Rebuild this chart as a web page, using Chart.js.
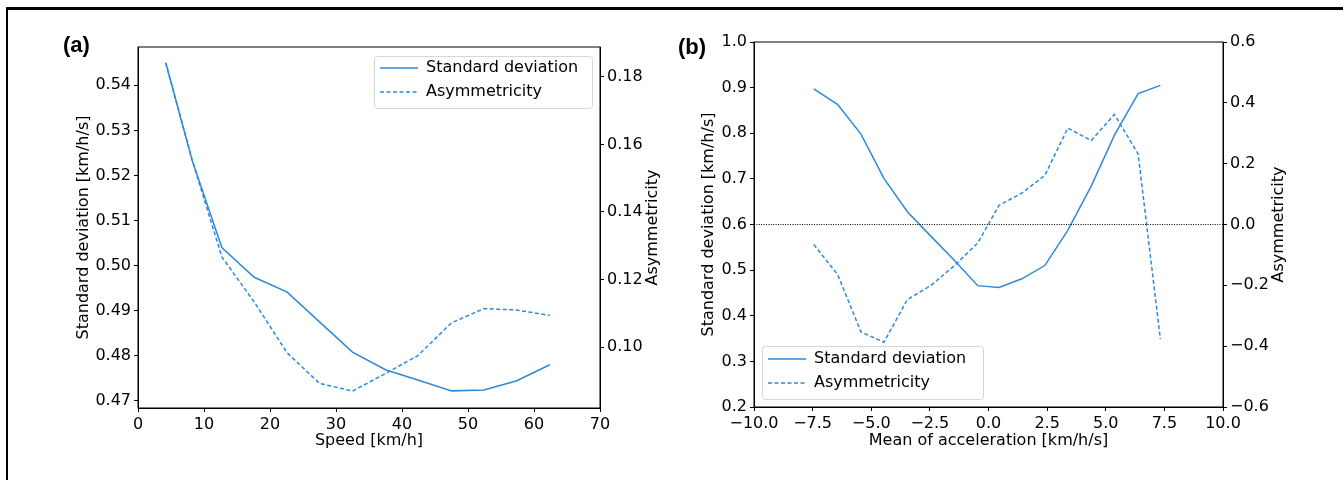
<!DOCTYPE html>
<html>
<head>
<meta charset="utf-8">
<script src="https://cdn.jsdelivr.net/npm/chart.js@4.4.1/dist/chart.umd.min.js"></script>
<style>
  body { margin: 0; width: 1343px; height: 480px; background: #fff; position: relative; overflow: hidden; }
  .frame { position: absolute; left: 6px; top: 7px; width: 1400px; height: 500px; border-left: 2.5px solid #000; border-top: 3px solid #000; }
  canvas { position: absolute; top: 0; }
  #chart-a { left: 0; }
  #chart-b { left: 671px; }
  .tag { position: absolute; font: bold 22px "Liberation Sans", Arial, sans-serif; color: #000; line-height: 22px; }
</style>
</head>
<body>
<div class="frame"></div>
<canvas id="chart-a" width="671" height="480"></canvas>
<canvas id="chart-b" width="672" height="480"></canvas>
<div class="tag" style="left:63px;top:34px">(a)</div>
<div class="tag" style="left:678px;top:36px">(b)</div>
<script>
// (a) speed bins
const SPEED = [4.2, 8.2, 12.7, 17.6, 22.6, 27.5, 32.5, 37.5, 42.4, 47.5, 52.4, 57.3, 62.4];
const SPEED_STD = [0.545, 0.5234, 0.504, 0.4974, 0.4941, 0.4875, 0.4808, 0.4769, 0.4746, 0.4722, 0.4724, 0.4744, 0.478];
const SPEED_ASYM = [0.1841, 0.1554, 0.1267, 0.1134, 0.0983, 0.0893, 0.087, 0.0922, 0.0975, 0.1072, 0.1114, 0.111, 0.1094];
const SPEED_TICKS = [0, 10, 20, 30, 40, 50, 60, 70];
const SPEED_STD_TICKS = [0.47, 0.48, 0.49, 0.5, 0.51, 0.52, 0.53, 0.54];
const SPEED_ASYM_TICKS = [0.1, 0.12, 0.14, 0.16, 0.18];

// (b) acceleration bins
const ACC = [-7.45, -6.43, -5.44, -4.46, -3.46, -2.45, -1.45, -0.46, 0.45, 1.42, 2.4, 3.38, 4.38, 5.37, 6.38, 7.33];
const ACC_STD = [0.897, 0.863, 0.798, 0.701, 0.628, 0.574, 0.521, 0.466, 0.462, 0.481, 0.51, 0.587, 0.684, 0.796, 0.887, 0.905];
const ACC_ASYM = [-0.066, -0.165, -0.353, -0.387, -0.247, -0.2, -0.135, -0.061, 0.063, 0.103, 0.161, 0.317, 0.276, 0.362, 0.232, -0.377];
const ACC_TICKS = [-10, -7.5, -5, -2.5, 0, 2.5, 5, 7.5, 10];
const ACC_STD_TICKS = [0.2, 0.3, 0.4, 0.5, 0.6, 0.7, 0.8, 0.9, 1.0];
const ACC_ASYM_TICKS = [-0.6, -0.4, -0.2, 0, 0.2, 0.4, 0.6];

const LINE_COLOR = "#2e8ad8";
const DASH = [4, 2.5];
const FONT = { family: "DejaVu Sans", size: 16 };

function minus(s) {
  return s.replace("-", "\u2212");
}

function fixed(n) {
  return (v) => (Math.abs(v) < 1e-9 ? (0).toFixed(n) : minus(v.toFixed(n)));
}

function series(label, xs, ys, axisId, dash) {
  return {
    label: label,
    data: xs.map((x, i) => ({ x: x, y: ys[i] })),
    yAxisID: axisId,
    borderColor: LINE_COLOR,
    backgroundColor: LINE_COLOR,
    borderWidth: 1.5,
    borderDash: dash,
    pointRadius: 0,
    tension: 0,
  };
}

function axis(position, min, max, ticks, fmt, title, size) {
  return {
    type: "linear",
    position: position,
    min: min,
    max: max,
    afterBuildTicks: (scale) => {
      scale.ticks = ticks.map((v) => ({ value: v }));
    },
    afterFit: (scale) => {
      if (position === "bottom") scale.height = size;
      else scale.width = size;
    },
    ticks: { font: FONT, color: "#000", padding: 3, autoSkip: false, maxRotation: 0, callback: fmt },
    grid: { drawOnChartArea: false, tickLength: 4, color: "#000", tickColor: "#000" },
    border: { color: "#000", width: 1 },
    // right-hand titles are drawn by the frame plugin so they read bottom-to-top
    title: { display: position !== "right", text: title, font: FONT, color: "#000", padding: { top: 4, bottom: 2 } },
  };
}

// box around the plot, legend frame and placement, right axis title
const framePlugin = {
  id: "frame",
  afterLayout(chart, args, opts) {
    const lg = chart.legend;
    lg.left = opts.legendX;
    lg.top = opts.legendY;
    lg.right = lg.left + lg.width;
    lg.bottom = lg.top + lg.height;
  },
  beforeDraw(chart, args, opts) {
    const { ctx } = chart;
    const b = opts.box;
    ctx.save();
    ctx.fillStyle = "rgba(255,255,255,0.8)";
    ctx.strokeStyle = "#d6d6d6";
    ctx.lineWidth = 1;
    ctx.beginPath();
    ctx.roundRect(b[0] + 0.5, b[1] + 0.5, b[2], b[3], 3);
    ctx.fill();
    ctx.stroke();
    ctx.restore();
  },
  afterDraw(chart, args, opts) {
    const { ctx, chartArea: a } = chart;
    ctx.save();
    ctx.strokeStyle = "#000";
    ctx.lineWidth = 1;
    ctx.strokeRect(a.left, a.top, a.right - a.left, a.bottom - a.top);
    const right = chart.scales.y1;
    ctx.translate(right.right - 4 - 9.6, (a.top + a.bottom) / 2);
    ctx.rotate(-Math.PI / 2);
    ctx.font = `${FONT.size}px "${FONT.family}"`;
    ctx.fillStyle = "#000";
    ctx.textAlign = "center";
    ctx.textBaseline = "middle";
    ctx.fillText(opts.rightTitle, 0, 0);
    ctx.restore();
  },
};

function legendOpts() {
  return {
    position: "chartArea",
    align: "start",
    labels: {
      font: FONT,
      color: "#000",
      usePointStyle: true,
      pointStyle: "line",
      pointStyleWidth: 38,
      padding: 8,
      generateLabels: (chart) =>
        Chart.defaults.plugins.legend.labels
          .generateLabels(chart)
          .filter((item) => item.text !== "")
          .map((item) => {
            const ds = chart.data.datasets[item.datasetIndex];
            return Object.assign(item, {
              lineDash: ds.borderDash,
              lineWidth: ds.borderWidth,
              strokeStyle: ds.borderColor,
            });
          }),
    },
  };
}

function createSpeedChart() {
  const ctx = document.getElementById("chart-a").getContext("2d");
  return new Chart(ctx, {
    type: "line",
    data: {
      datasets: [
        series("Standard deviation", SPEED, SPEED_STD, "y", []),
        series("Asymmetricity", SPEED, SPEED_ASYM, "y1", DASH),
      ],
    },
    options: {
      responsive: false,
      animation: false,
      layout: { padding: { left: 70, right: 5, top: 47, bottom: 28 } },
      scales: {
        x: axis("bottom", 0, 70, SPEED_TICKS, (v) => String(v), "Speed [km/h]", 44),
        y: axis("left", 0.4684, 0.5485, SPEED_STD_TICKS, fixed(2), "Standard deviation [km/h/s]", 68),
        y1: axis("right", 0.082, 0.1888, SPEED_ASYM_TICKS, fixed(2), "Asymmetricity", 66),
      },
      plugins: {
        legend: legendOpts(),
        tooltip: { enabled: false },
        frame: { legendX: 372, legendY: 52, box: [374, 56, 218, 52], rightTitle: "Asymmetricity" },
      },
    },
    plugins: [framePlugin],
  });
}

function createAccChart() {
  const ctx = document.getElementById("chart-b").getContext("2d");
  const zero = {
    label: "",
    data: [{ x: -10, y: 0 }, { x: 10, y: 0 }],
    yAxisID: "y1",
    borderColor: "#000",
    borderWidth: 1,
    borderDash: [1, 1.4],
    pointRadius: 0,
  };
  return new Chart(ctx, {
    type: "line",
    data: {
      datasets: [
        zero,
        series("Standard deviation", ACC, ACC_STD, "y", []),
        series("Asymmetricity", ACC, ACC_ASYM, "y1", DASH),
      ],
    },
    options: {
      responsive: false,
      animation: false,
      layout: { padding: { left: 24, right: 51, top: 42, bottom: 28 } },
      scales: {
        x: axis("bottom", -10, 10, ACC_TICKS, fixed(1), "Mean of acceleration [km/h/s]", 45),
        y: axis("left", 0.2, 1.0, ACC_STD_TICKS, fixed(1), "Standard deviation [km/h/s]", 59),
        y1: axis("right", -0.6, 0.6, ACC_ASYM_TICKS, fixed(1), "Asymmetricity", 69),
      },
      plugins: {
        legend: legendOpts(),
        tooltip: { enabled: false },
        frame: { legendX: 89, legendY: 343, box: [91, 346, 221, 53], rightTitle: "Asymmetricity" },
      },
    },
    plugins: [framePlugin],
  });
}

createSpeedChart();
createAccChart();
</script>
</body>
</html>
